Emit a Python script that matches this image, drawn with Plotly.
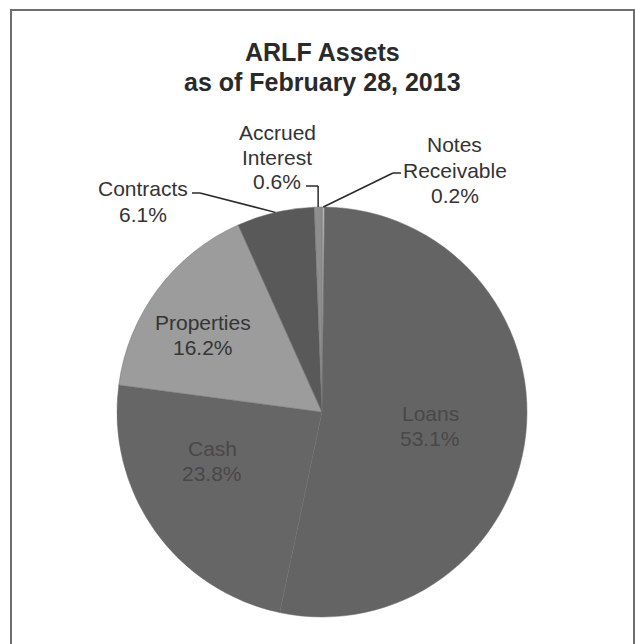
import math
import plotly.graph_objects as go

# ---- data ----
categories = ["Notes Receivable", "Loans", "Cash", "Properties", "Contracts", "Accrued Interest"]
label_lines = [["Notes", "Receivable"], ["Loans"], ["Cash"], ["Properties"], ["Contracts"], ["Accrued", "Interest"]]
values = [0.2, 53.1, 23.8, 16.2, 6.1, 0.6]
colors = ["#b8b8b8", "#646464", "#666666", "#9c9c9c", "#595959", "#8e8e8e"]
title_lines = ["ARLF Assets", "as of February 28, 2013"]

W, H = 635, 644
CX, CY, R = 322, 412, 205

def px(x):
    return x / W

def py(y):
    return 1 - y / H

fig = go.Figure(go.Pie(
    labels=categories,
    values=values,
    sort=False,
    direction="clockwise",
    rotation=0,
    marker=dict(colors=colors, line=dict(color="#6c6c6c", width=0.5)),
    textinfo="none",
    hoverinfo="label+percent",
    domain=dict(x=[px(CX - R), px(CX + R)], y=[py(CY + R), py(CY - R)]),
))

font = "Arial, Liberation Sans, sans-serif"
LINE = 25

# label positions (pixel centre of first line) and text colours
label_pos = {
    0: (455, 145, "#333333"),
    1: (430, 413, "#484848"),
    2: (212, 448, "#484848"),
    3: (203, 322, "#353535"),
    4: (143, 189, "#333333"),
    5: (277, 132, "#333333"),
}
annotations = []
for i, (x, y, c) in label_pos.items():
    lines = label_lines[i] + [f"{values[i]:.1f}%"]
    for k, t in enumerate(lines):
        annotations.append(dict(
            x=px(x), y=py(y + k * LINE), xref="paper", yref="paper",
            text=t, showarrow=False, xanchor="center", yanchor="middle",
            font=dict(family=font, size=21, color=c),
        ))

for k, t in enumerate(title_lines):
    annotations.append(dict(
        x=px(322), y=py(52 + k * 30), xref="paper", yref="paper",
        text=f"<b>{t}</b>", showarrow=False, xanchor="center", yanchor="middle",
        font=dict(family=font, size=25, color="#2a2a2a"),
    ))

# leader lines: pie-edge points computed from slice mid-angles
total = sum(values)
cum = 0
mids = []
for v in values:
    mids.append((cum + v / 2) / total * 2 * math.pi)
    cum += v

def edge(i):
    a = mids[i]
    return CX + R * math.sin(a), CY - R * math.cos(a)

shapes = []
def seg(x0, y0, x1, y1):
    shapes.append(dict(type="line", xref="paper", yref="paper",
                       x0=px(x0), y0=py(y0), x1=px(x1), y1=py(y1),
                       line=dict(color="#2a2a2a", width=1.5)))

# Contracts
ex, ey = edge(4)
seg(192, 193, 200, 193)
seg(200, 193, ex, ey)
# Accrued Interest
ex, ey = edge(5)
seg(306, 186, ex, 186)
seg(ex, 186, ex, ey)
# Notes Receivable
ex, ey = edge(0)
seg(401, 173, 393, 173)
seg(393, 173, ex, ey)

# frame
shapes.append(dict(type="rect", xref="paper", yref="paper",
                   x0=px(11), y0=py(660), x1=px(634), y1=py(10),
                   line=dict(color="#6e6e6e", width=2)))

fig.update_layout(
    width=W, height=H,
    margin=dict(l=0, r=0, t=0, b=0),
    showlegend=False,
    paper_bgcolor="white",
    plot_bgcolor="white",
    annotations=annotations,
    shapes=shapes,
)

fig.write_html("out.html")
